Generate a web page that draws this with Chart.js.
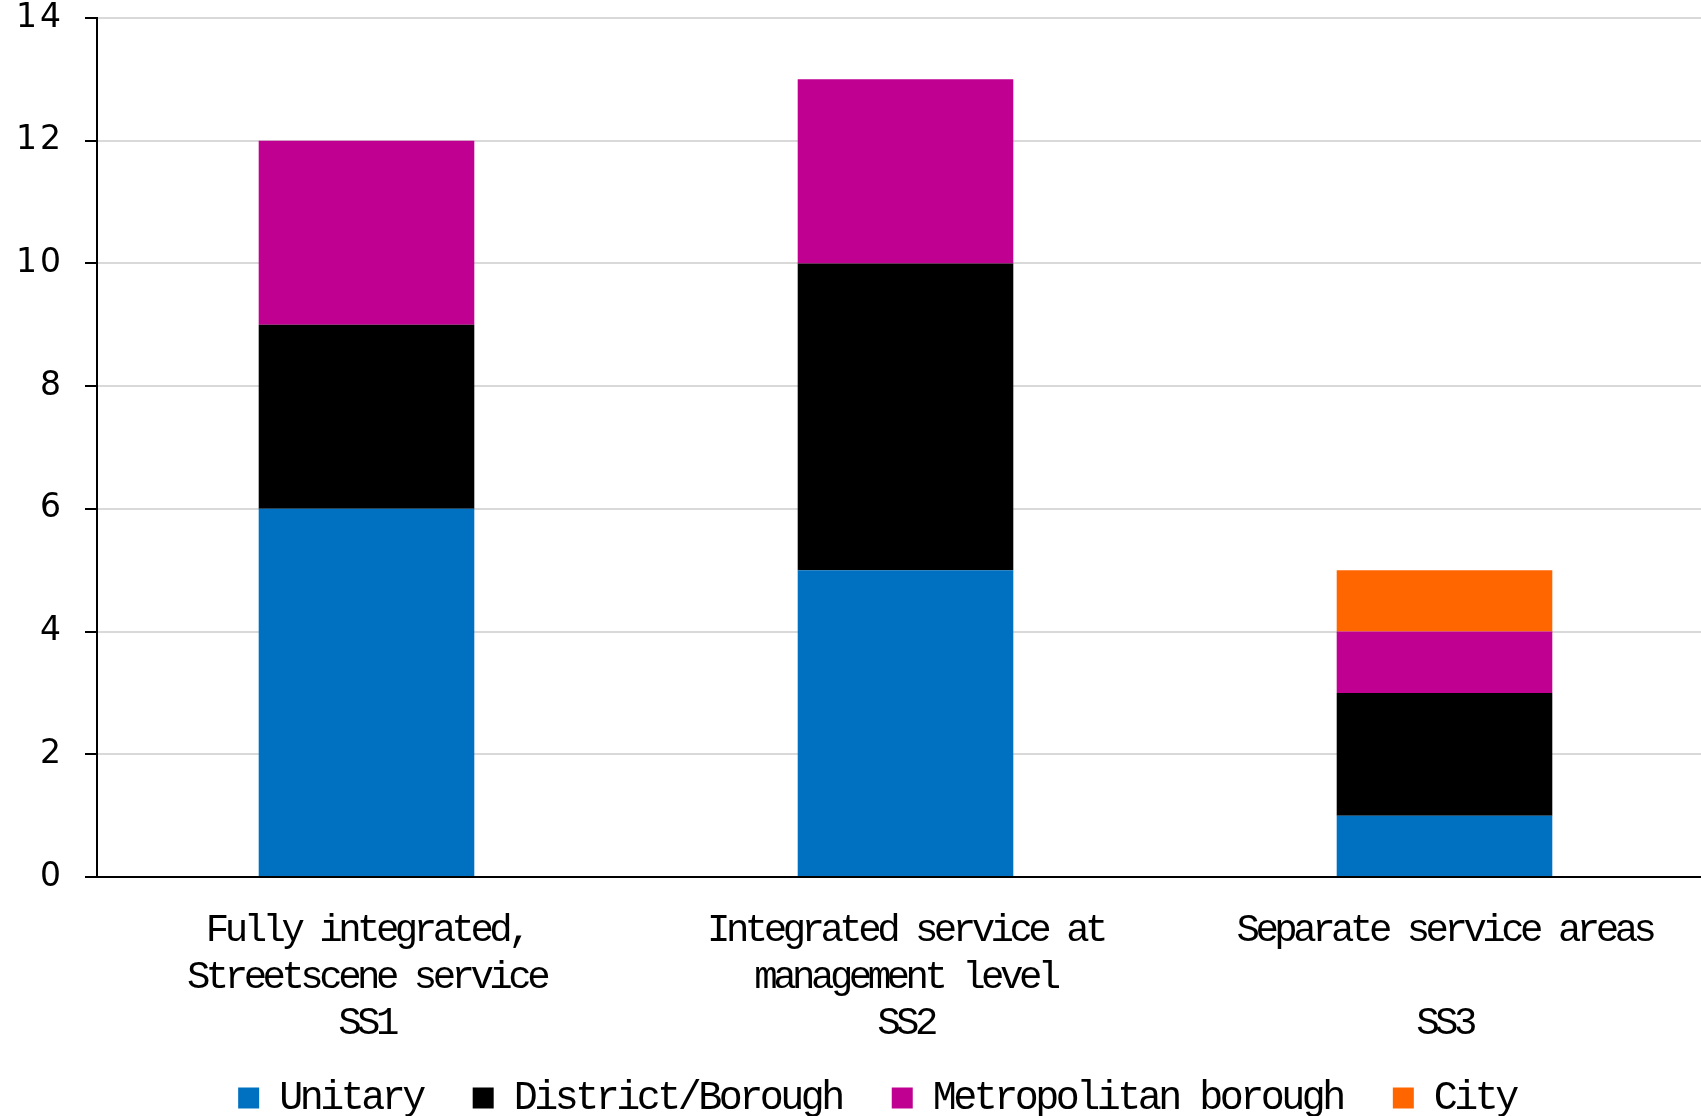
<!DOCTYPE html>
<html>
<head>
<meta charset="utf-8">
<script src="https://cdn.jsdelivr.net/npm/chart.js@4"></script>
<style>
  html, body { margin: 0; padding: 0; background: #fff; }
  #wrap { width: 1701px; height: 1116px; }
</style>
</head>
<body>
<div id="wrap"><canvas id="streetChart"></canvas></div>
<script>
const categories = [
  ['Fully integrated,', 'Streetscene service', 'SS1'],
  ['Integrated service at', 'management level', 'SS2'],
  ['Separate service areas', '', 'SS3']
];
const unitary = [6, 5, 1];
const districtBorough = [3, 5, 2];
const metroBorough = [3, 3, 1];
const city = [0, 0, 1];
const yTicks = [0, 2, 4, 6, 8, 10, 12, 14];

const ctx = document.getElementById('streetChart').getContext('2d');

// the original's courier text is squeezed and its digits spaced out,
// so set letter spacing per call depending on the font in use
function spacingFor(c) {
  if (c.font.includes('Mono')) {
    return c.font.includes('40px') ? '-3.5px' : '-4.5px';
  }
  return '3px';
}
const origFill = ctx.fillText;
ctx.fillText = function (t, x, y, m) {
  this.letterSpacing = spacingFor(this);
  return m === undefined ? origFill.call(this, t, x, y) : origFill.call(this, t, x, y, m);
};
const origMeasure = ctx.measureText;
ctx.measureText = function (t) {
  this.letterSpacing = spacingFor(this);
  return origMeasure.call(this, t);
};

const layoutTweaks = {
  id: 'layoutTweaks',
  // the original's plot runs a little past the right edge of the picture
  afterLayout(chart) {
    const s = chart.scales.x;
    s.right = s.left + 1617;
    s.width = 1617;
    s.configure();
  },
  // legend sits right of centre and a bit higher than chart.js puts it
  beforeDraw(chart) {
    chart.legend.left = 0;
    chart.legend.right = 1754;
    chart.legend.top = chart.scales.x.bottom - 19;
  }
};

new Chart(ctx, {
  type: 'bar',
  data: {
    labels: categories,
    datasets: [
      { label: 'Unitary', data: unitary, backgroundColor: '#0070C0' },
      { label: 'District/Borough', data: districtBorough, backgroundColor: '#000000' },
      { label: 'Metropolitan borough', data: metroBorough, backgroundColor: '#C00090' },
      { label: 'City', data: city, backgroundColor: '#FF6600' }
    ]
  },
  plugins: [layoutTweaks],
  options: {
    responsive: true,
    maintainAspectRatio: false,
    animation: false,
    layout: { padding: { top: 18, right: 0, bottom: -31, left: 0 } },
    datasets: {
      bar: { barPercentage: 0.4, categoryPercentage: 1 }
    },
    scales: {
      x: {
        stacked: true,
        grid: { display: true, color: 'rgba(0,0,0,0)', drawTicks: false },
        border: { color: '#000', width: 2 },
        ticks: {
          color: '#000',
          autoSkip: false,
          maxRotation: 0,
          padding: 30,
          font: { family: '"Liberation Mono", monospace', size: 39, lineHeight: 1.2 }
        },
        afterFit(scale) { scale.height = 170; }
      },
      y: {
        stacked: true,
        min: 0,
        max: 14,
        grid: { color: '#d9d9d9', lineWidth: 2, tickColor: '#000', tickLength: 12 },
        border: { color: '#000', width: 2 },
        afterBuildTicks(scale) { scale.ticks = yTicks.map(v => ({ value: v })); },
        ticks: {
          color: '#000',
          padding: 21,
          font: { family: '"DejaVu Sans", sans-serif', size: 33 }
        },
        afterFit(scale) {
          scale.width = 97;
          scale.paddingTop = 0;
          scale.paddingBottom = 0;
        }
      }
    },
    plugins: {
      legend: {
        position: 'bottom',
        labels: {
          color: '#000',
          boxWidth: 21,
          boxHeight: 21,
          padding: 50,
          font: { family: '"Liberation Mono", monospace', size: 40 }
        }
      },
      tooltip: { enabled: false }
    }
  }
});
</script>
</body>
</html>
